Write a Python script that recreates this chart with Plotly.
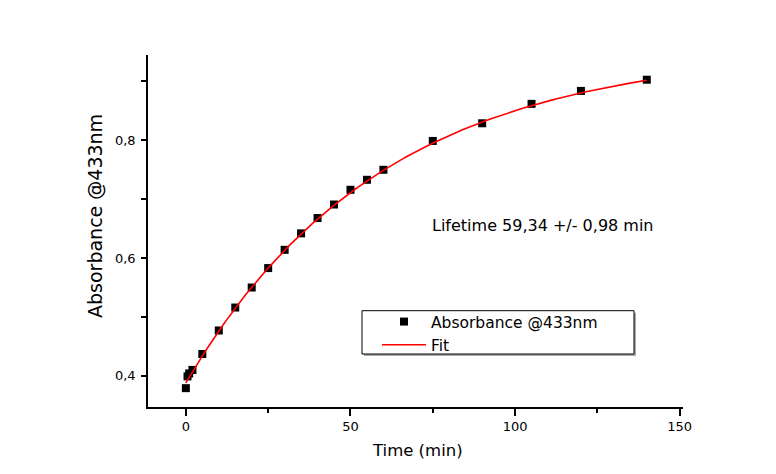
import numpy as np
import plotly.graph_objects as go

# Kinetic trace: absorbance at 433 nm versus time
time_min = [0, 0.5, 1, 2, 5, 10, 15, 20, 25, 30, 35, 40, 45, 50, 55, 60,
            75, 90, 105, 120, 140]
absorbance = [0.379, 0.399, 0.404, 0.410, 0.437, 0.477, 0.516, 0.550, 0.583,
              0.614, 0.642, 0.668, 0.691, 0.716, 0.733, 0.750, 0.799, 0.829,
              0.862, 0.884, 0.903]

# Single-exponential rise fit: y = A - B * exp(-t / tau)
fit_A = 0.9557
fit_B = 0.5677
lifetime = 59.34
lifetime_err = 0.98

x_ticks = [0, 50, 100, 150]
y_ticks = [0.4, 0.6, 0.8]

W, H = 776, 474
L, R, T, B = 148, 93, 55, 67
PW, PH = W - L - R, H - T - B


def px(x):
    return (x - L) / PW


def py(y):
    return (H - B - y) / PH


FONT = "DejaVu Sans"

t_fit = np.linspace(0, max(time_min), 300)
y_fit = fit_A - fit_B * np.exp(-t_fit / lifetime)

fig = go.Figure()
fig.add_trace(go.Scatter(
    x=time_min, y=absorbance, mode="markers", name="Absorbance @433nm",
    marker=dict(symbol="square", size=8, color="black"),
))
fig.add_trace(go.Scatter(
    x=t_fit, y=y_fit, mode="lines", name="Fit",
    line=dict(color="#ff0000", width=1.6),
))

axis_common = dict(
    showgrid=False, zeroline=False, showline=True, linecolor="black",
    linewidth=1.6, ticks="outside", tickcolor="black", tickwidth=1.5,
    tickfont=dict(family=FONT, size=13, color="black"),
)

fig.update_xaxes(
    range=[-11.5, 151], tickvals=x_ticks, ticklen=7,
    minor=dict(dtick=25, tick0=0, ticks="outside", ticklen=4,
               tickcolor="black", tickwidth=1.5),
    **axis_common,
)
fig.update_yaxes(
    range=[0.347, 0.945], tickvals=y_ticks, tickformat=".1f", ticklen=5,
    ticklabelstandoff=3,
    minor=dict(dtick=0.1, tick0=0.4, ticks="outside", ticklen=5,
               tickcolor="black", tickwidth=1.5),
    **axis_common,
)

# Legend frame with a soft drop shadow
lx0, lx1, ly0, ly1 = 362, 634, 310.7, 354
shapes = [
    dict(type="rect", xref="paper", yref="paper",
         x0=px(lx0 + 2), x1=px(lx1 + 2), y0=py(ly1 + 2), y1=py(ly0 + 2),
         line=dict(width=0), fillcolor="#a8a8a8", layer="above"),
    dict(type="rect", xref="paper", yref="paper",
         x0=px(lx0), x1=px(lx1), y0=py(ly1), y1=py(ly0),
         line=dict(color="black", width=1), fillcolor="white", layer="above"),
]

annotations = [
    dict(text="Absorbance @433nm", xref="paper", yref="paper",
         x=px(95), y=py(216), textangle=-90, showarrow=False,
         xanchor="center", yanchor="middle",
         font=dict(family=FONT, size=19, color="black")),
    dict(text="Time (min)", xref="paper", yref="paper",
         x=px(417), y=py(450.7), showarrow=False,
         xanchor="center", yanchor="middle",
         font=dict(family=FONT, size=16.5, color="black")),
    dict(text=f"Lifetime {lifetime:.2f} +/- {lifetime_err:.2f} min".replace(".", ","),
         xref="paper", yref="paper", x=px(543), y=py(225), showarrow=False,
         xanchor="center", yanchor="middle",
         font=dict(family=FONT, size=16, color="black")),
]

fig.update_layout(
    width=W, height=H,
    margin=dict(l=L, r=R, t=T, b=B, pad=0),
    paper_bgcolor="white", plot_bgcolor="white",
    separators=", ",
    font=dict(family=FONT, color="black"),
    shapes=shapes,
    annotations=annotations,
    legend=dict(
        x=px(377), y=py(305), xanchor="left", yanchor="top",
        bgcolor="rgba(0,0,0,0)", borderwidth=0, itemwidth=44,
        font=dict(family=FONT, size=15.5, color="black"),
    ),
)

fig.write_html("out.html")
